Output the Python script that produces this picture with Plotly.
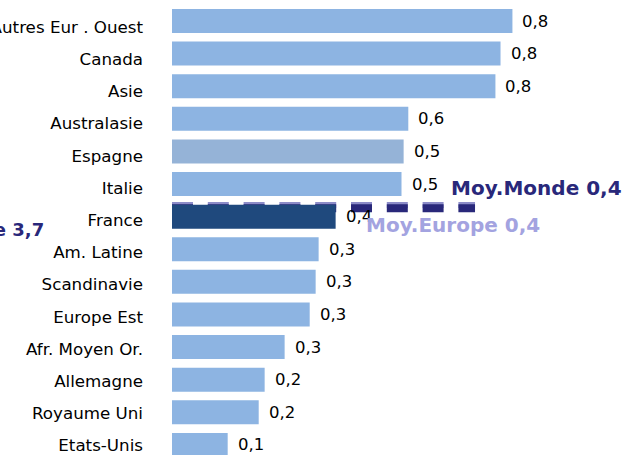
import plotly.graph_objects as go

categories = ["Autres Eur . Ouest", "Canada", "Asie", "Australasie", "Espagne", "Italie",
              "France", "Am. Latine", "Scandinavie", "Europe Est", "Afr. Moyen Or.",
              "Allemagne", "Royaume Uni", "Etats-Unis"]
values = [0.801, 0.773, 0.761, 0.556, 0.545, 0.540, 0.385, 0.345, 0.338, 0.324,
          0.265, 0.218, 0.204, 0.131]
value_labels = ["0,8", "0,8", "0,8", "0,6", "0,5", "0,5", "0,4", "0,3", "0,3", "0,3",
                "0,3", "0,2", "0,2", "0,1"]
moy_monde = 0.4
moy_europe = 0.4

LIGHT = "#8DB4E2"
bar_colors = []
for c in categories:
    if c == "France":
        bar_colors.append("#1F497D")
    elif c == "Espagne":
        bar_colors.append("#95B3D7")
    else:
        bar_colors.append(LIGHT)

FONT = "DejaVu Sans, Arial, sans-serif"
NAVY = "#29287A"
LAV = "#A3A3E0"

fig = go.Figure()
fig.add_trace(go.Bar(
    x=values, y=categories, orientation="h",
    marker=dict(color=bar_colors, line=dict(width=0)),
    hoverinfo="skip",
))
# invisible helper trace carrying the category tick labels on a second axis
fig.add_trace(go.Scatter(
    x=[0] * len(categories), y=categories, yaxis="y2", mode="markers",
    marker=dict(opacity=0, size=1), hoverinfo="skip", showlegend=False,
))

annotations = []
for c, v, t in zip(categories, values, value_labels):
    annotations.append(dict(x=v, y=c, xref="x", yref="y", text=t, showarrow=False,
                            xanchor="left", yanchor="middle", xshift=8,
                            font=dict(family=FONT, size=16.5, color="#000000")))

annotations.append(dict(x=0.652, y=5.12, xref="x", yref="y", text="<b>Moy.Monde 0,4</b>",
                        showarrow=False, xanchor="left", yanchor="middle",
                        font=dict(family=FONT, size=20, color=NAVY)))
annotations.append(dict(x=0.452, y=6.27, xref="x", yref="y", text="<b>Moy.Europe 0,4</b>",
                        showarrow=False, xanchor="left", yanchor="middle",
                        font=dict(family=FONT, size=20, color=LAV)))
annotations.append(dict(x=-0.2733, y=6.4, xref="paper", yref="y", text="<b>Moyenne 3,7</b>",
                        showarrow=False, xanchor="right", yanchor="middle",
                        font=dict(family=FONT, size=18, color=NAVY)))

shapes = [
    dict(type="line", xref="x", yref="y", x0=0, x1=0.713, y0=5.64, y1=5.64,
         line=dict(color="#8C8CC8", width=6, dash="21px,14.8px"), layer="below"),
    dict(type="line", xref="x", yref="y", x0=0, x1=0.713, y0=5.74, y1=5.74,
         line=dict(color=NAVY, width=8, dash="21px,14.8px"), layer="below"),
]

fig.update_layout(
    width=633, height=455,
    margin=dict(l=172, r=0, t=0, b=0, pad=0),
    paper_bgcolor="white", plot_bgcolor="white",
    showlegend=False,
    bargap=0.264,
    annotations=annotations,
    shapes=shapes,
    font=dict(family=FONT, size=17, color="#000000"),
    yaxis=dict(categoryorder="array", categoryarray=categories,
               range=[13.31, -0.644], showgrid=False, zeroline=False, showline=False,
               showticklabels=False, ticks="", automargin=False, fixedrange=True),
    yaxis2=dict(overlaying="y", side="left", categoryorder="array",
                categoryarray=categories, range=[13.296, -0.839],
                showgrid=False, zeroline=False, showline=False,
                ticks="", ticklabelstandoff=28, automargin=False, fixedrange=True,
                tickfont=dict(family=FONT, size=16.7, color="#000000")),
)
fig.update_xaxes(range=[0, 461 / 425], visible=False, showgrid=False, zeroline=False,
                 fixedrange=True)

fig.write_html("out.html", config={"displayModeBar": False})

with open("out.html", "r", encoding="utf-8") as f:
    html = f.read()
html = html.replace("<head>", "<head><style>html,body{margin:0;padding:0;overflow:hidden;}</style>", 1)
with open("out.html", "w", encoding="utf-8") as f:
    f.write(html)
